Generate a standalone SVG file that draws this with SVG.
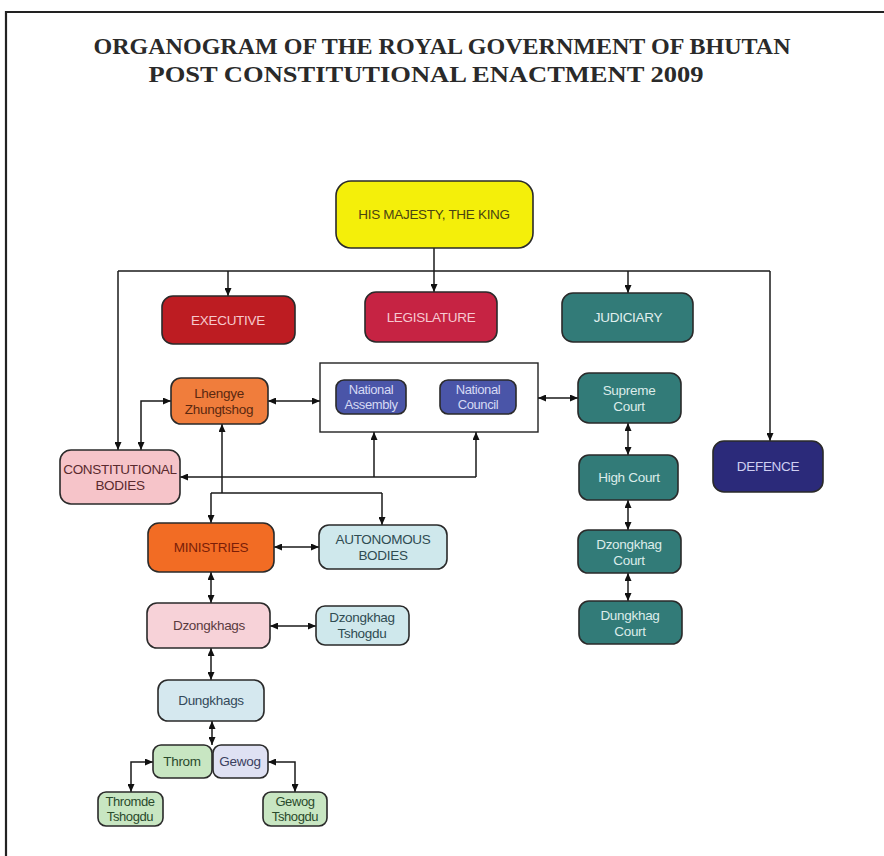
<svg xmlns="http://www.w3.org/2000/svg" width="884" height="856" viewBox="0 0 884 856">
<style>
.n{stroke:#2a2a2a;stroke-width:1.6}
.t{font-family:"Liberation Sans",Arial,sans-serif;font-size:13.5px;text-anchor:middle;letter-spacing:-0.3px}
.s{font-size:13px;letter-spacing:-0.4px}
.c{fill:none;stroke:#1a1a1a;stroke-width:1.5}
.title{font-family:"Liberation Serif","Times New Roman",serif;font-weight:bold;font-size:23px;fill:#2a2a2a;text-anchor:middle}
</style>
<defs>
<marker id="a" viewBox="0 0 8 7" refX="8" refY="3.5" markerWidth="8" markerHeight="7" markerUnits="userSpaceOnUse" orient="auto-start-reverse">
<path d="M0,0 L8,3.5 L0,7 z" fill="#111"/>
</marker>
</defs>
<rect width="884" height="856" fill="#fff"/>
<path d="M6,856 V12 H884" fill="none" stroke="#222" stroke-width="2.2"/>
<g id="title">
<text class="title" x="442" y="54" textLength="697" lengthAdjust="spacingAndGlyphs">ORGANOGRAM OF THE ROYAL GOVERNMENT OF BHUTAN</text>
<text class="title" x="426" y="82" textLength="555" lengthAdjust="spacingAndGlyphs">POST CONSTITUTIONAL ENACTMENT 2009</text>
</g>
<g id="connectors">
<path class="c" d="M434,248 V292" marker-end="url(#a)"/>
<path class="c" d="M118,271 H770"/>
<path class="c" d="M118,271 V450" marker-end="url(#a)"/>
<path class="c" d="M770,271 V441" marker-end="url(#a)"/>
<path class="c" d="M228,271 V296" marker-end="url(#a)"/>
<path class="c" d="M628,271 V293" marker-end="url(#a)"/>
<path class="c" d="M171,401 H141 V450" marker-start="url(#a)" marker-end="url(#a)"/>
<path class="c" d="M268,401 H320" marker-start="url(#a)" marker-end="url(#a)"/>
<path class="c" d="M538,398 H578" marker-start="url(#a)" marker-end="url(#a)"/>
<path class="c" d="M628,423 V455" marker-start="url(#a)" marker-end="url(#a)"/>
<path class="c" d="M628,500 V530" marker-start="url(#a)" marker-end="url(#a)"/>
<path class="c" d="M628,573 V601" marker-start="url(#a)" marker-end="url(#a)"/>
<path class="c" d="M180,477 H476" marker-start="url(#a)"/>
<path class="c" d="M374,477 V432" marker-end="url(#a)"/>
<path class="c" d="M476,477 V432" marker-end="url(#a)"/>
<path class="c" d="M222,493 V424" marker-end="url(#a)"/>
<path class="c" d="M211,493 H382"/>
<path class="c" d="M211,493 V523" marker-end="url(#a)"/>
<path class="c" d="M382,493 V525" marker-end="url(#a)"/>
<path class="c" d="M274,547 H319" marker-start="url(#a)" marker-end="url(#a)"/>
<path class="c" d="M211,572 V603" marker-start="url(#a)" marker-end="url(#a)"/>
<path class="c" d="M270,626 H316" marker-start="url(#a)" marker-end="url(#a)"/>
<path class="c" d="M211,648 V680" marker-start="url(#a)" marker-end="url(#a)"/>
<path class="c" d="M212,721 V745" marker-start="url(#a)" marker-end="url(#a)"/>
<path class="c" d="M153,762 H131 V792" marker-start="url(#a)" marker-end="url(#a)"/>
<path class="c" d="M268,762 H295 V792" marker-start="url(#a)" marker-end="url(#a)"/>
</g>
<g id="king"><rect class="n" x="336" y="181" width="197" height="67" rx="15" fill="#f4ef0a"/><text class="t" x="434" y="219" fill="#4a4512">HIS MAJESTY, THE KING</text></g>
<g id="executive"><rect class="n" x="162" y="296" width="133" height="48" rx="11" fill="#bd1c22"/><text class="t" x="228" y="325" fill="#f6c8cc">EXECUTIVE</text></g>
<g id="legislature"><rect class="n" x="365" y="292" width="132" height="50" rx="11" fill="#c62343"/><text class="t" x="431" y="322" fill="#f6c8d2">LEGISLATURE</text></g>
<g id="judiciary"><rect class="n" x="562" y="293" width="131" height="49" rx="11" fill="#327b78"/><text class="t" x="628" y="322" fill="#e0efee">JUDICIARY</text></g>
<g id="lhengye"><rect class="n" x="171" y="378" width="97" height="46" rx="10" fill="#f07d3c"/><text class="t" x="219" y="398" fill="#5a2810">Lhengye</text><text class="t" x="219" y="414" fill="#5a2810">Zhungtshog</text></g>
<g id="parliament"><rect x="320" y="363" width="218" height="69" fill="#fff" stroke="#222" stroke-width="1.4"/></g>
<g id="national-assembly"><rect class="n" x="336" y="380" width="70" height="34" rx="8" fill="#4a55a8"/><text class="t s" x="371" y="394" fill="#d6daf4">National</text><text class="t s" x="371" y="409" fill="#d6daf4">Assembly</text></g>
<g id="national-council"><rect class="n" x="440" y="380" width="76" height="34" rx="8" fill="#4a55a8"/><text class="t s" x="478" y="394" fill="#d6daf4">National</text><text class="t s" x="478" y="409" fill="#d6daf4">Council</text></g>
<g id="supreme-court"><rect class="n" x="578" y="373" width="103" height="50" rx="11" fill="#327b78"/><text class="t" x="629" y="395" fill="#dcecea">Supreme</text><text class="t" x="629" y="411" fill="#dcecea">Court</text></g>
<g id="high-court"><rect class="n" x="579" y="455" width="99" height="45" rx="10" fill="#327b78"/><text class="t" x="629" y="482" fill="#dcecea">High Court</text></g>
<g id="dzongkhag-court"><rect class="n" x="578" y="530" width="103" height="43" rx="10" fill="#327b78"/><text class="t" x="629" y="549" fill="#dcecea">Dzongkhag</text><text class="t" x="629" y="565" fill="#dcecea">Court</text></g>
<g id="dungkhag-court"><rect class="n" x="579" y="601" width="103" height="43" rx="10" fill="#327b78"/><text class="t" x="630" y="620" fill="#dcecea">Dungkhag</text><text class="t" x="630" y="636" fill="#dcecea">Court</text></g>
<g id="defence"><rect class="n" x="713" y="441" width="110" height="51" rx="11" fill="#2b2a7a"/><text class="t" x="768" y="471" fill="#cfcff2">DEFENCE</text></g>
<g id="constitutional-bodies"><rect class="n" x="60" y="450" width="120" height="54" rx="11" fill="#f6c4c9"/><text class="t" x="120" y="474" fill="#5a2a2e">CONSTITUTIONAL</text><text class="t" x="120" y="490" fill="#5a2a2e">BODIES</text></g>
<g id="ministries"><rect class="n" x="148" y="523" width="126" height="49" rx="11" fill="#f26c24"/><text class="t" x="211" y="552" fill="#7a1e08">MINISTRIES</text></g>
<g id="autonomous-bodies"><rect class="n" x="319" y="525" width="128" height="44" rx="10" fill="#cfe8ec"/><text class="t" x="383" y="544" fill="#2f4c52">AUTONOMOUS</text><text class="t" x="383" y="560" fill="#2f4c52">BODIES</text></g>
<g id="dzongkhags"><rect class="n" x="147" y="603" width="123" height="45" rx="10" fill="#f7d2d8"/><text class="t" x="209" y="630" fill="#5a3a3e">Dzongkhags</text></g>
<g id="dzongkhag-tshogdu"><rect class="n" x="316" y="606" width="93" height="39" rx="9" fill="#cfe8ec"/><text class="t" x="362" y="622" fill="#2f4c52">Dzongkhag</text><text class="t" x="362" y="638" fill="#2f4c52">Tshogdu</text></g>
<g id="dungkhags"><rect class="n" x="158" y="680" width="106" height="41" rx="10" fill="#d5e8ef"/><text class="t" x="211" y="705" fill="#33485a">Dungkhags</text></g>
<g id="throm"><rect class="n" x="153" y="745" width="59" height="33" rx="8" fill="#c8e6c2"/><text class="t" x="182" y="766" fill="#2a4a2c">Throm</text></g>
<g id="gewog"><rect class="n" x="213" y="745" width="55" height="33" rx="8" fill="#dfe1f3"/><text class="t" x="240" y="766" fill="#3a4060">Gewog</text></g>
<g id="thromde-tshogdu"><rect class="n" x="98" y="792" width="65" height="34" rx="8" fill="#c8e6c2"/><text class="t s" x="130" y="806" fill="#2a4a2c">Thromde</text><text class="t s" x="130" y="821" fill="#2a4a2c">Tshogdu</text></g>
<g id="gewog-tshogdu"><rect class="n" x="263" y="792" width="64" height="34" rx="8" fill="#c8e6c2"/><text class="t s" x="295" y="806" fill="#2a4a2c">Gewog</text><text class="t s" x="295" y="821" fill="#2a4a2c">Tshogdu</text></g>
</svg>
